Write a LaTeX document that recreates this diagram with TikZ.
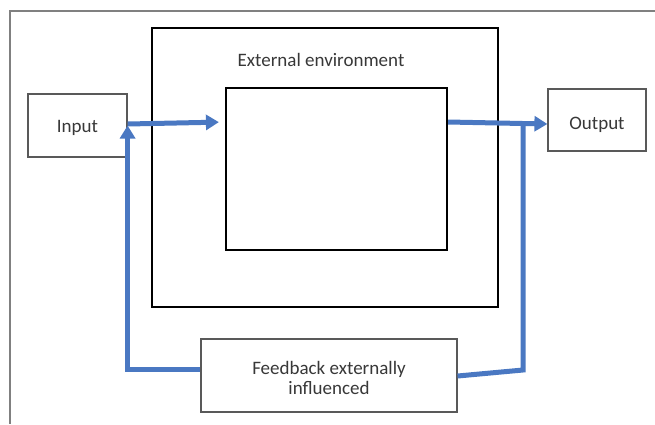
\documentclass[tikz,border=0pt]{standalone}
\usepackage{fontspec}
\setmainfont{Carlito}
\usetikzlibrary{arrows.meta}
\definecolor{flowblue}{HTML}{4A78C2}
\definecolor{txt}{HTML}{383838}
\tikzset{
  smallbox/.style={draw=black!65, line width=1.2pt, fill=white, text=txt, font=\fontsize{19}{21}\selectfont, align=center, inner sep=0pt},
  bigframe/.style={draw=black, line width=2.2pt, inner sep=0pt},
  flow/.style={draw=flowblue, line width=5pt, line join=miter},
  flowtip/.style={-{Triangle[length=13pt,width=15pt]}}
}
\begin{document}
\begin{tikzpicture}[x=1pt,y=-1pt]
\useasboundingbox (0,0) rectangle (655,424);
\draw[black!50, line width=1.5pt] (655,11) -- (10,11) -- (10,424);
\node[bigframe, minimum width=346pt, minimum height=279pt] (env) at (325,167.5) {};
\node[bigframe, minimum width=221pt, minimum height=162pt] (sys) at (336.5,169) {};
\node[text=txt, font=\fontsize{19}{21}\selectfont] (envlabel) at (321,60) {External environment};
\node[smallbox, minimum width=99pt, minimum height=63pt, text height=16pt, text depth=2pt] (in) at (77.5,125.5) {Input};
\node[smallbox, minimum width=98pt, minimum height=62pt, text height=19pt, text depth=0pt] (out) at (597,120) {Output};
\node[smallbox, minimum width=256pt, minimum height=73pt] (fb) at (329,375.5) {};
\node[text=txt, font=\fontsize{19}{20}\selectfont, align=center] (fbtext) at (329,377.5) {Feedback externally\\influenced};
\coordinate (rj) at (523,121.5);
\coordinate (rb) at (523,370);
% input to system
\draw[flow, flowtip, shorten >=6pt] (in.east |- 0,124) -- (sys.west |- 0,122);
% system to output
\draw[flow, flowtip] (sys.east |- 0,122) -- (out.west |- 0,124);
% feedback loop left
\draw[flow, flowtip] ([yshift=6.5pt]fb.west) -| (in.east);
% feedback loop right
\draw[flow] (fb.east |- 0,376) -- (rb) -- (rj);
\end{tikzpicture}
\end{document}
